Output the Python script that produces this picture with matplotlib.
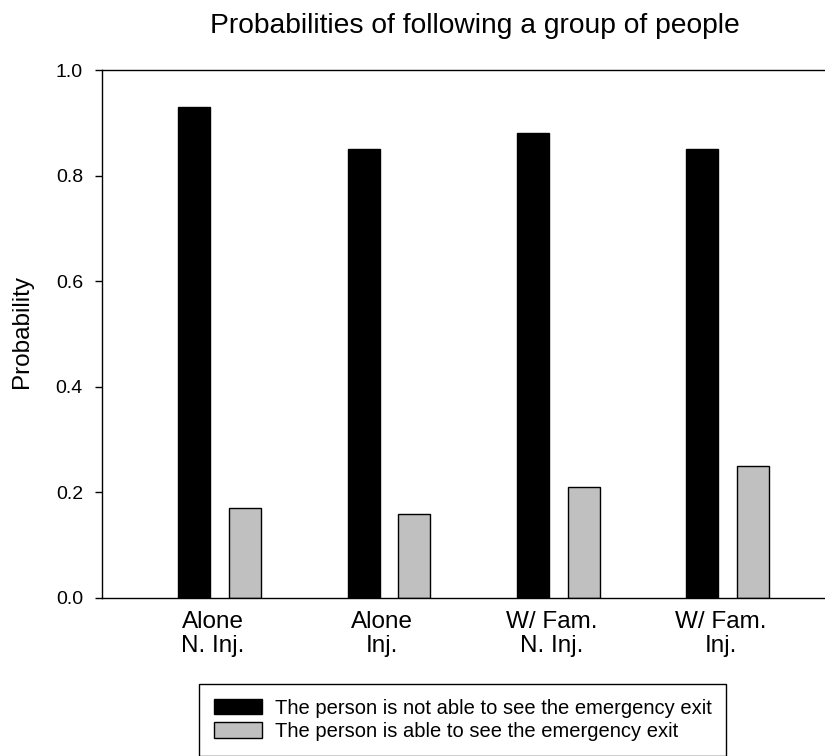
import matplotlib
matplotlib.use('Agg')
import matplotlib.pyplot as plt
import numpy as np

categories = ['Alone\nN. Inj.', 'Alone\nInj.', 'W/ Fam.\nN. Inj.', 'W/ Fam.\nInj.']
not_see = [0.93, 0.85, 0.88, 0.85]
see = [0.17, 0.16, 0.21, 0.25]
series_labels = ['The person is not able to see the emergency exit',
                 'The person is able to see the emergency exit']
yticks = [0.0, 0.2, 0.4, 0.6, 0.8, 1.0]
title = 'Probabilities of following a group of people'
ylabel = 'Probability'

plt.rcParams['font.family'] = ['Liberation Sans', 'DejaVu Sans']
W, H = 825, 756
fig = plt.figure(figsize=(W / 100, H / 100), dpi=100)
ax = fig.add_axes([101.7 / W, 1 - 598 / H, 1 - 101.7 / W + 0.01, (598 - 70) / H])

x = np.arange(len(categories))
w = 0.189
ax.bar(x - 0.11, not_see, w, color='black', edgecolor='black', linewidth=1,
       label=series_labels[0])
ax.bar(x + 0.19, see, w, color='#c0c0c0', edgecolor='black', linewidth=1,
       label=series_labels[1])

ax.set_xlim(-0.656, 3.663)
ax.set_ylim(0, 1)
ax.set_yticks(yticks)
ax.set_yticklabels([f'{v:.1f}' for v in yticks], fontsize=14)
ax.set_xticks(x)
ax.set_xticklabels(categories, fontsize=17.5, linespacing=1.08)
ax.tick_params(axis='x', length=0, pad=9.5)
ax.tick_params(axis='y', direction='out', length=5.3, width=1, pad=8.2)
for s in ['left', 'top', 'bottom']:
    ax.spines[s].set_linewidth(1)
ax.spines['right'].set_visible(False)

fig.text(475 / W, 1 - 32.7 / H, title, fontsize=20.3, ha='center', va='baseline')
fig.text(11 / W, 1 - 332 / H, ylabel, fontsize=17.5, rotation=90, ha='left', va='center')

leg = fig.legend(loc='upper left', bbox_to_anchor=(199 / W, 1 - 684 / H),
                 borderaxespad=0, fontsize=14.5, handlelength=2.4, handleheight=0.8,
                 handletextpad=0.65, borderpad=0.72, labelspacing=0.23,
                 fancybox=False, framealpha=1, edgecolor='black')
leg.get_frame().set_linewidth(1)

fig.savefig('out.png', dpi=100)
